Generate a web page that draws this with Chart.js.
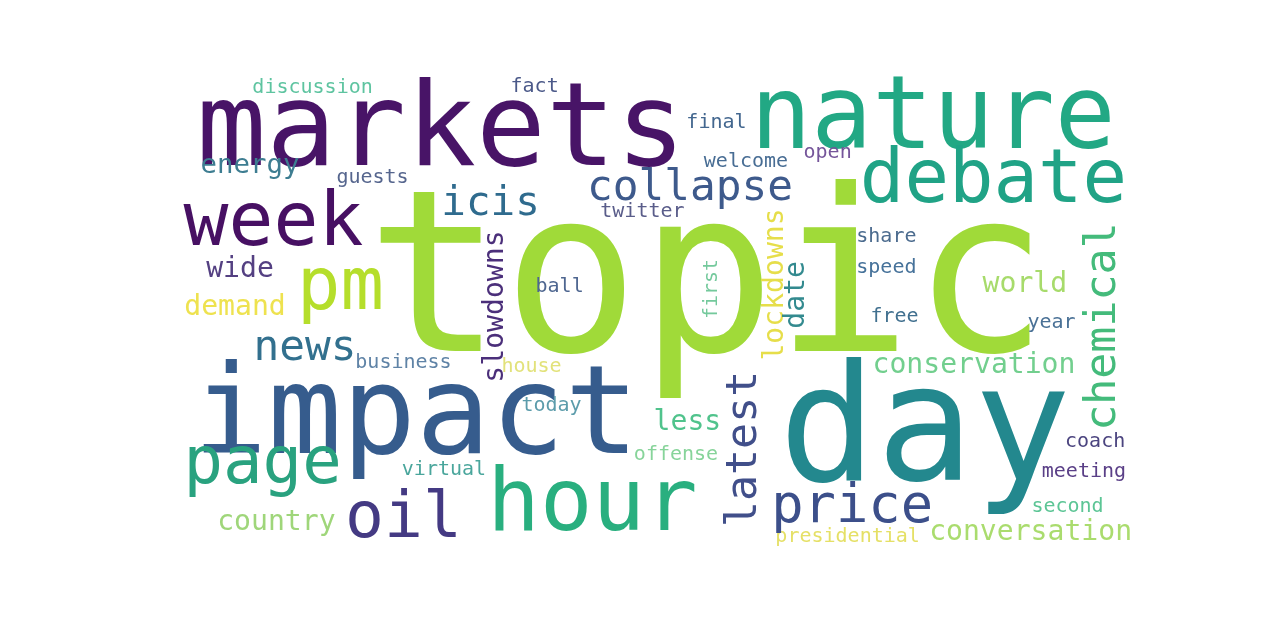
<!DOCTYPE html>
<html>
<head>
<meta charset="utf-8">
<script src="https://cdn.jsdelivr.net/npm/chart.js@4.4.1/dist/chart.umd.min.js"></script>
<style>
  html, body { margin: 0; padding: 0; background: #fff; }
  #wrap { width: 1280px; height: 623px; position: relative; }
</style>
</head>
<body>
<div id="wrap"><canvas id="cloud"></canvas></div>
<script>
// ── Word cloud layout (cloud grid 400 x 200, y down) ──
const words = ['topic','markets','nature','debate','day','impact','hour','week','pm','icis',
  'collapse','energy','guests','discussion','fact','twitter','final','welcome','open','share',
  'speed','world','free','year','conservation','less','offense','coach','meeting','second',
  'conversation','presidential','price','news','business','house','today','page','virtual','oil',
  'country','demand','wide','ball','slowdowns','lockdowns','date','first','latest','chemical'];

const posX = [221.6,109.7,316.4,341.8,313.0,99.2,173.3,39.3,67.4,130.5,
  214.3,29.4,80.9,55.7,149.0,194.3,225.4,237.8,272.1,296.8,
  296.8,355.0,300.2,366.2,333.6,213.2,208.4,384.5,379.8,372.9,
  357.4,280.5,282.4,52.5,93.9,147.7,156.1,34.7,110.9,93.9,
  40.5,23.1,25.2,159.5,135.7,253.4,262.2,225.6,242.0,392.9];

const posY = [118.1,39.9,32.8,55.5,172.3,160.9,193.3,73.5,100.4,60.9,
  54.6,43.3,47.5,9.7,9.2,61.8,24.4,40.8,37.0,72.3,
  85.3,93.3,105.9,108.4,127.3,151.3,163.9,158.4,171.0,185.7,
  197.5,198.3,189.9,121.8,125.2,126.9,143.3,173.5,170.2,196.2,
  193.3,102.9,87.0,93.3,99.4,90.1,94.5,92.0,159.2,107.8];

// relative weight = font size in cloud units
const weights = [95.2,48.8,42.5,31.1,68.0,51.9,36.7,31.4,30.3,17.2,
  18.0,11.5,8.4,8.4,8.4,8.4,8.4,8.4,8.4,8.4,
  8.4,11.8,8.4,8.4,11.8,11.8,8.4,8.4,8.4,8.4,
  11.8,8.4,22.6,18.0,8.4,8.4,8.4,27.6,8.4,27.2,
  11.8,11.8,11.8,8.4,11.8,11.8,11.8,8.4,18.2,18.2];

const vertical = ['slowdowns','lockdowns','date','first','latest','chemical'];

const colors = ['#a0da39','#481467','#22a884','#20a386','#23888e','#365c8d','#29af7f','#471063','#b5de2b','#2f6b8e',
  '#3e5a8c','#3d7d91','#56668e','#5ec4a0','#4b5989','#5a5d8a','#43678f','#486d94','#75559a','#4b6b8e',
  '#46729a','#a7db6b','#41708f','#4a7196','#72cf8e','#50c38c','#87d49a','#4b447f','#5a3f87','#5cc595',
  '#aadc6e','#e5e066','#3c4f8a','#32708e','#5f83a6','#e2e27a','#5c9cab','#29a27f','#4aa69c','#443a83',
  '#9fd67a','#eee24f','#544082','#4e6690','#4b2f7a','#e6de4a','#338a8f','#74c99c','#414f8a','#44bb7b'];

// ── Draw words at their scaled points ─────────────────
const wordPlugin = {
  id: 'words',
  afterDatasetsDraw(chart) {
    const ctx = chart.ctx;
    const xs = chart.scales.x;
    const unit = xs.getPixelForValue(1) - xs.getPixelForValue(0);
    const pts = chart.getDatasetMeta(0).data;
    ctx.save();
    ctx.filter = 'blur(0.6px)';   // the source image is an upscaled bitmap
    ctx.textAlign = 'center';
    ctx.textBaseline = 'alphabetic';
    pts.forEach((p, i) => {
      ctx.save();
      ctx.fillStyle = colors[i];
      ctx.font = (weights[i] * unit).toFixed(1) + 'px "DejaVu Sans Mono"';
      ctx.translate(p.x, p.y);
      if (vertical.includes(words[i])) ctx.rotate(-Math.PI / 2);
      ctx.fillText(words[i], 0, 0);
      ctx.restore();
    });
    ctx.restore();
  }
};

new Chart(document.getElementById('cloud'), {
  type: 'scatter',
  data: {
    datasets: [{ data: words.map((w, i) => ({ x: posX[i], y: posY[i] })), pointRadius: 0 }]
  },
  options: {
    responsive: true,
    maintainAspectRatio: false,
    animation: false,
    layout: { padding: { left: 180, right: 148, top: 70, bottom: 77 } },
    plugins: { legend: { display: false }, tooltip: { enabled: false } },
    scales: {
      x: { display: false, min: 0, max: 400 },
      y: { display: false, min: 0, max: 200, reverse: true }
    }
  },
  plugins: [wordPlugin]
});
</script>
</body>
</html>
